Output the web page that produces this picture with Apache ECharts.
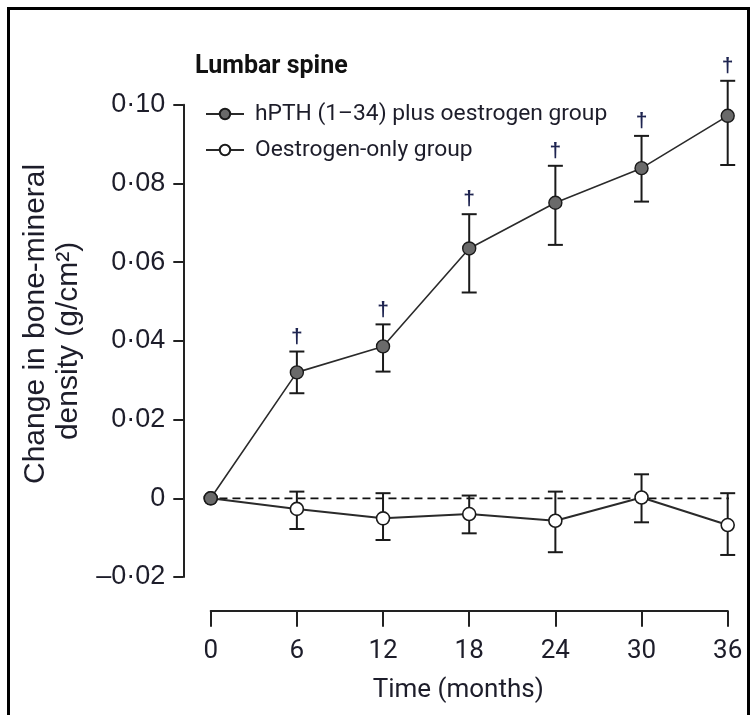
<!DOCTYPE html>
<html>
<head>
<meta charset="utf-8">
<script src="https://cdn.jsdelivr.net/npm/echarts@6/dist/echarts.min.js"></script>
<style>
  html, body { margin: 0; padding: 0; background: #fff; }
  #chart { width: 751px; height: 715px; }
</style>
</head>
<body>
<div id="chart"></div>
<script>
// Time points (months)
const months = [0, 6, 12, 18, 24, 30, 36];

// Mean change in lumbar-spine BMD (g/cm²)
const pthMean = [0, 0.0320, 0.0386, 0.0635, 0.0751, 0.0839, 0.0972];
const pthLow  = [null, 0.0267, 0.0322, 0.0523, 0.0644, 0.0754, 0.0847];
const pthHigh = [null, 0.0373, 0.0442, 0.0722, 0.0845, 0.0921, 0.1061];
// † marks a significant difference between the groups
const pthSignificant = [false, true, true, true, true, true, true];

const oesMean = [0, -0.0027, -0.0051, -0.0040, -0.0057, 0.0002, -0.0068];
const oesLow  = [null, -0.0078, -0.0106, -0.0089, -0.0137, -0.0061, -0.0144];
const oesHigh = [null, 0.0017, 0.0013, 0.0007, 0.0017, 0.0061, 0.0013];

const yTicks = [-0.02, 0, 0.02, 0.04, 0.06, 0.08, 0.10];
const xTicks = months;

// extent of the dashed reference line at zero change
const zeroLineFrom = -1.2;
const zeroLineTo = 37.2;

const seriesNames = ['hPTH (1–34) plus oestrogen group', 'Oestrogen-only group'];

const SANS = '"Liberation Sans", Arial, Helvetica, sans-serif';
const GOTHIC = 'Roboto, "Liberation Sans", sans-serif';
const INK = '#1d1d2a';

function pairs(xs, ys) { return xs.map((x, i) => [x, ys[i]]); }

function errorRows(low, high, sig) {
  const rows = [];
  months.forEach((m, i) => {
    if (low[i] == null) return;
    rows.push([m, low[i], high[i], sig && sig[i] ? 1 : 0]);
  });
  return rows;
}

function fmtY(v) {
  if (Math.abs(v) < 1e-9) return '0';
  const s = Math.abs(v).toFixed(2).replace('.', '·');
  return (v < 0 ? '–' : '') + s;
}

function renderErrorBar(params, api) {
  const x = api.value(0);
  const lo = api.coord([x, api.value(1)]);
  const hi = api.coord([x, api.value(2)]);
  const cap = 7.5;
  const st = { stroke: '#1a1a1a', lineWidth: 2 };
  const kids = [
    { type: 'line', shape: { x1: lo[0], y1: lo[1], x2: hi[0], y2: hi[1] }, style: st },
    { type: 'line', shape: { x1: hi[0] - cap, y1: hi[1], x2: hi[0] + cap, y2: hi[1] }, style: st },
    { type: 'line', shape: { x1: lo[0] - cap, y1: lo[1], x2: lo[0] + cap, y2: lo[1] }, style: st }
  ];
  if (api.value(3) === 1) {
    kids.push({
      type: 'text',
      style: {
        text: '†', x: hi[0], y: hi[1] - 4,
        align: 'center', verticalAlign: 'bottom',
        font: 'bold 21px ' + SANS, fill: '#1e2450'
      }
    });
  }
  return { type: 'group', children: kids };
}

const chart = echarts.init(document.getElementById('chart'), null, { renderer: 'canvas' });

chart.setOption({
  animation: false,
  backgroundColor: '#fff',
  title: {
    text: 'Lumbar spine',
    left: 195, top: 54, padding: 0,
    textStyle: { fontFamily: GOTHIC, fontWeight: 'bold', fontSize: 25, lineHeight: 25, color: '#111' }
  },
  legend: {
    orient: 'vertical',
    left: 205, top: 102, padding: 0,
    itemWidth: 38, itemHeight: 13, itemGap: 12,
    data: seriesNames,
    textStyle: { fontFamily: GOTHIC, fontSize: 22.8, lineHeight: 24, color: INK, padding: [0, 0, 0, 6] }
  },
  grid: { left: 210.7, right: 23.3, top: 104.8, bottom: 138 },
  xAxis: {
    type: 'value', min: xTicks[0], max: xTicks[xTicks.length - 1], interval: 6,
    offset: 33.7,
    name: 'Time (months)', nameLocation: 'middle', nameGap: 67,
    nameTextStyle: { fontFamily: GOTHIC, fontSize: 26, color: INK, padding: [0, 22, 0, 0] },
    axisLine: { show: true, onZero: false, lineStyle: { color: '#222', width: 2 } },
    axisTick: { show: true, length: 16, lineStyle: { color: '#222', width: 2 } },
    axisLabel: { margin: 28, fontFamily: GOTHIC, fontSize: 26, color: INK },
    splitLine: { show: false }
  },
  yAxis: {
    type: 'value', min: yTicks[0], max: yTicks[yTicks.length - 1], interval: 0.02,
    offset: 27.4,
    name: '{l1|Change in bone-mineral}\n{l2|density (g/cm²)}',
    nameLocation: 'middle', nameGap: 92, nameRotate: 90,
    nameTextStyle: {
      fontFamily: SANS, fontSize: 30, lineHeight: 33, color: INK, align: 'center',
      rich: {
        l1: { fontFamily: SANS, fontSize: 30, lineHeight: 33, color: INK, padding: [0, 0, 0, 34] },
        l2: { fontFamily: SANS, fontSize: 30, lineHeight: 33, color: INK }
      }
    },
    axisLine: { show: true, onZero: false, lineStyle: { color: '#222', width: 2 } },
    axisTick: { show: true, length: 10, lineStyle: { color: '#222', width: 2 } },
    axisLabel: { margin: 18, fontFamily: SANS, fontSize: 27, color: INK, formatter: fmtY },
    splitLine: { show: false }
  },
  series: [
    {
      name: 'zero',
      type: 'line',
      data: [[zeroLineFrom, 0], [zeroLineTo, 0]],
      clip: false,
      symbol: 'none',
      silent: true,
      lineStyle: { color: '#111', width: 1.8, type: [8, 5] },
      z: 1
    },
    {
      name: 'oesErr', type: 'custom', renderItem: renderErrorBar,
      data: errorRows(oesLow, oesHigh, null), clip: false, z: 2
    },
    {
      name: 'pthErr', type: 'custom', renderItem: renderErrorBar,
      data: errorRows(pthLow, pthHigh, pthSignificant), clip: false, z: 2
    },
    {
      name: seriesNames[1],
      type: 'line',
      data: pairs(months, oesMean),
      symbol: 'circle', symbolSize: 13, showAllSymbol: true,
      lineStyle: { color: '#2a2a2a', width: 2 },
      itemStyle: { color: '#ffffff', borderColor: '#1a1a1a', borderWidth: 1.6 },
      clip: false, z: 3
    },
    {
      name: seriesNames[0],
      type: 'line',
      data: pairs(months, pthMean),
      symbol: 'circle', symbolSize: 13, showAllSymbol: true,
      lineStyle: { color: '#2a2a2a', width: 1.6 },
      itemStyle: { color: '#6a6a6a', borderColor: '#1a1a1a', borderWidth: 1.4 },
      clip: false, z: 4
    }
  ],
  graphic: [
    {
      type: 'rect', silent: true, z: 100,
      shape: { x: 8.5, y: 8.5, width: 740, height: 730 },
      style: { fill: 'none', stroke: '#000', lineWidth: 3 }
    }
  ]
});
</script>
</body>
</html>
